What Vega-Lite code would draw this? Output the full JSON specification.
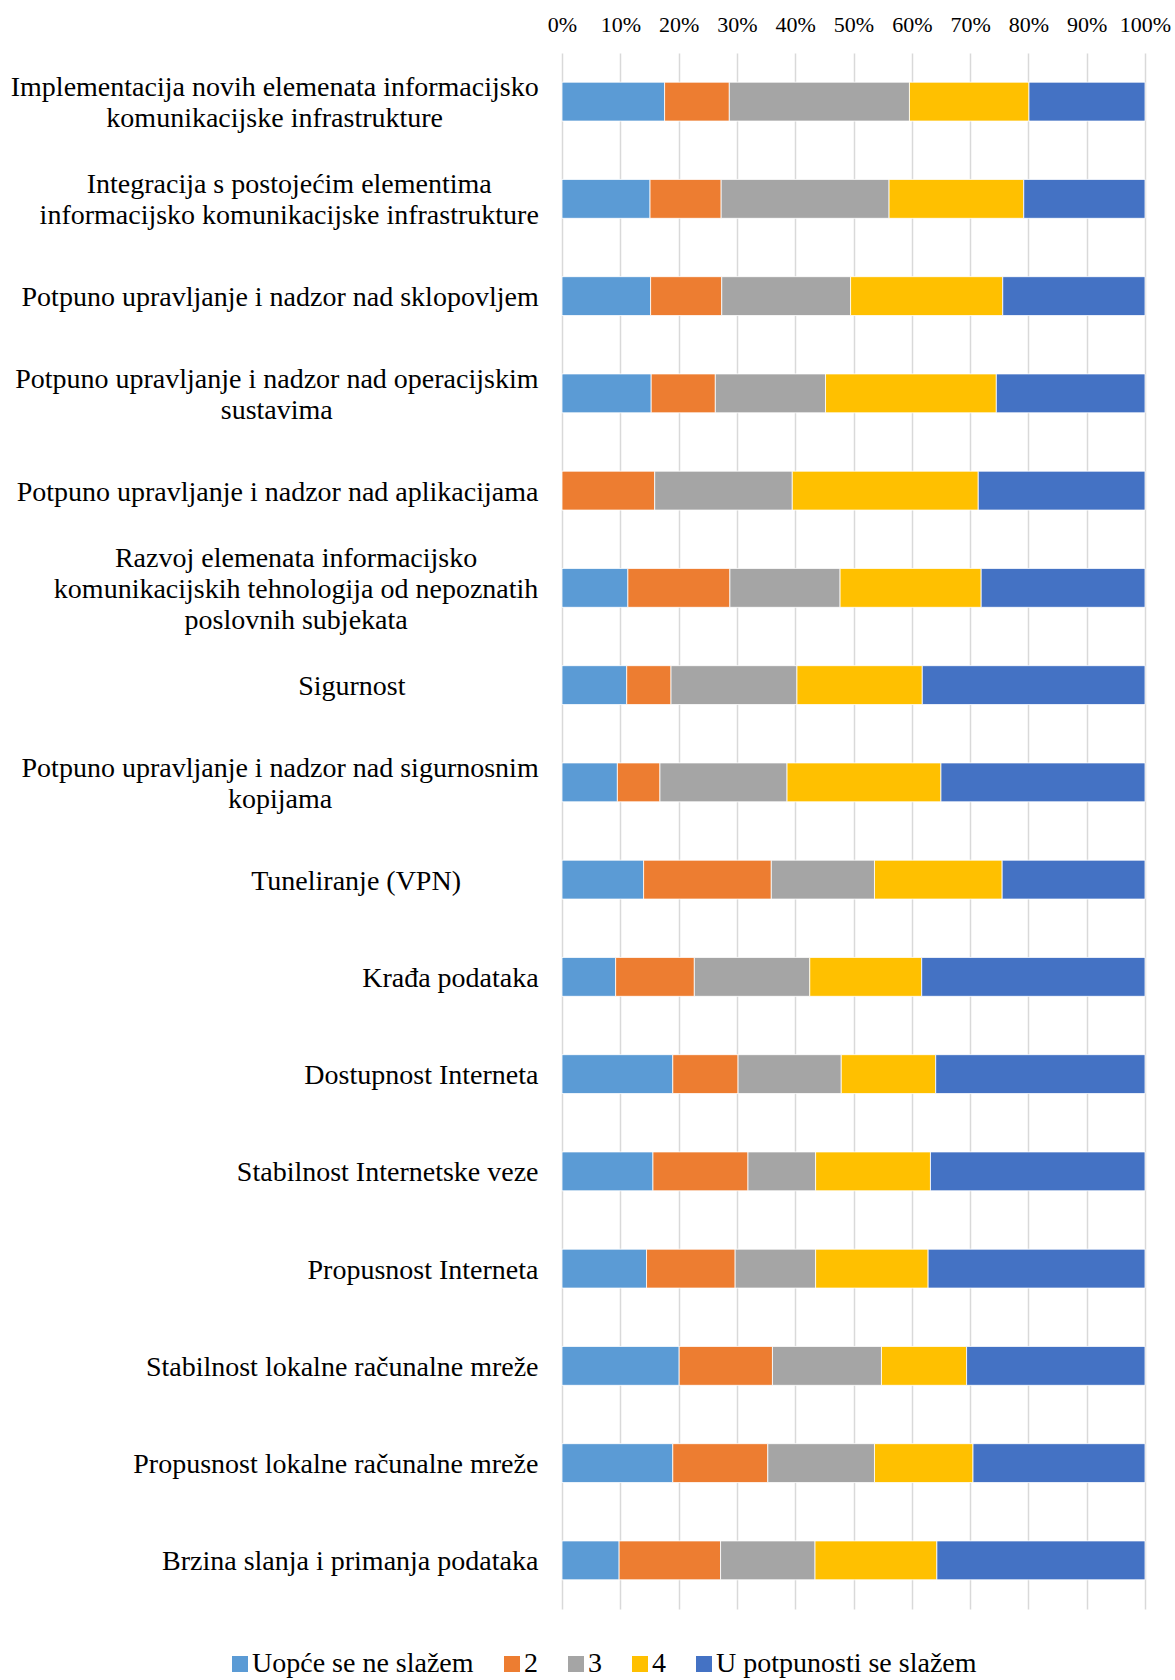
{
  "$schema": "https://vega.github.io/schema/vega-lite/v6.json",
  "width": 583,
  "height": 1556,
  "autosize": {"type": "none"},
  "padding": {"left": 562, "top": 53, "right": 30, "bottom": 71},
  "background": "white",
  "config": {"view": {"stroke": null}, "font": "Liberation Serif"},
  "data": {"values": [
    {"tema":"Implementacija novih elemenata informacijsko\nkomunikacijske infrastrukture","ocjena":"Uopće se ne slažem","k":1,"udio":17.6},
    {"tema":"Implementacija novih elemenata informacijsko\nkomunikacijske infrastrukture","ocjena":"2","k":2,"udio":11.1},
    {"tema":"Implementacija novih elemenata informacijsko\nkomunikacijske infrastrukture","ocjena":"3","k":3,"udio":30.9},
    {"tema":"Implementacija novih elemenata informacijsko\nkomunikacijske infrastrukture","ocjena":"4","k":4,"udio":20.5},
    {"tema":"Implementacija novih elemenata informacijsko\nkomunikacijske infrastrukture","ocjena":"U potpunosti se slažem","k":5,"udio":19.9},
    {"tema":"Integracija s postojećim elementima\ninformacijsko komunikacijske infrastrukture","ocjena":"Uopće se ne slažem","k":1,"udio":15.1},
    {"tema":"Integracija s postojećim elementima\ninformacijsko komunikacijske infrastrukture","ocjena":"2","k":2,"udio":12.2},
    {"tema":"Integracija s postojećim elementima\ninformacijsko komunikacijske infrastrukture","ocjena":"3","k":3,"udio":28.8},
    {"tema":"Integracija s postojećim elementima\ninformacijsko komunikacijske infrastrukture","ocjena":"4","k":4,"udio":23.1},
    {"tema":"Integracija s postojećim elementima\ninformacijsko komunikacijske infrastrukture","ocjena":"U potpunosti se slažem","k":5,"udio":20.8},
    {"tema":"Potpuno upravljanje i nadzor nad sklopovljem","ocjena":"Uopće se ne slažem","k":1,"udio":15.2},
    {"tema":"Potpuno upravljanje i nadzor nad sklopovljem","ocjena":"2","k":2,"udio":12.2},
    {"tema":"Potpuno upravljanje i nadzor nad sklopovljem","ocjena":"3","k":3,"udio":22.1},
    {"tema":"Potpuno upravljanje i nadzor nad sklopovljem","ocjena":"4","k":4,"udio":26.1},
    {"tema":"Potpuno upravljanje i nadzor nad sklopovljem","ocjena":"U potpunosti se slažem","k":5,"udio":24.4},
    {"tema":"Potpuno upravljanje i nadzor nad operacijskim\nsustavima","ocjena":"Uopće se ne slažem","k":1,"udio":15.3},
    {"tema":"Potpuno upravljanje i nadzor nad operacijskim\nsustavima","ocjena":"2","k":2,"udio":11.0},
    {"tema":"Potpuno upravljanje i nadzor nad operacijskim\nsustavima","ocjena":"3","k":3,"udio":18.9},
    {"tema":"Potpuno upravljanje i nadzor nad operacijskim\nsustavima","ocjena":"4","k":4,"udio":29.3},
    {"tema":"Potpuno upravljanje i nadzor nad operacijskim\nsustavima","ocjena":"U potpunosti se slažem","k":5,"udio":25.5},
    {"tema":"Potpuno upravljanje i nadzor nad aplikacijama","ocjena":"Uopće se ne slažem","k":1,"udio":0},
    {"tema":"Potpuno upravljanje i nadzor nad aplikacijama","ocjena":"2","k":2,"udio":15.9},
    {"tema":"Potpuno upravljanje i nadzor nad aplikacijama","ocjena":"3","k":3,"udio":23.6},
    {"tema":"Potpuno upravljanje i nadzor nad aplikacijama","ocjena":"4","k":4,"udio":31.9},
    {"tema":"Potpuno upravljanje i nadzor nad aplikacijama","ocjena":"U potpunosti se slažem","k":5,"udio":28.6},
    {"tema":"Razvoj elemenata informacijsko\nkomunikacijskih tehnologija od nepoznatih\nposlovnih subjekata","ocjena":"Uopće se ne slažem","k":1,"udio":11.3},
    {"tema":"Razvoj elemenata informacijsko\nkomunikacijskih tehnologija od nepoznatih\nposlovnih subjekata","ocjena":"2","k":2,"udio":17.5},
    {"tema":"Razvoj elemenata informacijsko\nkomunikacijskih tehnologija od nepoznatih\nposlovnih subjekata","ocjena":"3","k":3,"udio":18.9},
    {"tema":"Razvoj elemenata informacijsko\nkomunikacijskih tehnologija od nepoznatih\nposlovnih subjekata","ocjena":"4","k":4,"udio":24.2},
    {"tema":"Razvoj elemenata informacijsko\nkomunikacijskih tehnologija od nepoznatih\nposlovnih subjekata","ocjena":"U potpunosti se slažem","k":5,"udio":28.1},
    {"tema":"Sigurnost","ocjena":"Uopće se ne slažem","k":1,"udio":11.1},
    {"tema":"Sigurnost","ocjena":"2","k":2,"udio":7.6},
    {"tema":"Sigurnost","ocjena":"3","k":3,"udio":21.6},
    {"tema":"Sigurnost","ocjena":"4","k":4,"udio":21.5},
    {"tema":"Sigurnost","ocjena":"U potpunosti se slažem","k":5,"udio":38.2},
    {"tema":"Potpuno upravljanje i nadzor nad sigurnosnim\nkopijama","ocjena":"Uopće se ne slažem","k":1,"udio":9.5},
    {"tema":"Potpuno upravljanje i nadzor nad sigurnosnim\nkopijama","ocjena":"2","k":2,"udio":7.3},
    {"tema":"Potpuno upravljanje i nadzor nad sigurnosnim\nkopijama","ocjena":"3","k":3,"udio":21.8},
    {"tema":"Potpuno upravljanje i nadzor nad sigurnosnim\nkopijama","ocjena":"4","k":4,"udio":26.4},
    {"tema":"Potpuno upravljanje i nadzor nad sigurnosnim\nkopijama","ocjena":"U potpunosti se slažem","k":5,"udio":35.0},
    {"tema":"Tuneliranje (VPN)","ocjena":"Uopće se ne slažem","k":1,"udio":14.0},
    {"tema":"Tuneliranje (VPN)","ocjena":"2","k":2,"udio":21.9},
    {"tema":"Tuneliranje (VPN)","ocjena":"3","k":3,"udio":17.7},
    {"tema":"Tuneliranje (VPN)","ocjena":"4","k":4,"udio":21.9},
    {"tema":"Tuneliranje (VPN)","ocjena":"U potpunosti se slažem","k":5,"udio":24.5},
    {"tema":"Krađa podataka","ocjena":"Uopće se ne slažem","k":1,"udio":9.2},
    {"tema":"Krađa podataka","ocjena":"2","k":2,"udio":13.5},
    {"tema":"Krađa podataka","ocjena":"3","k":3,"udio":19.8},
    {"tema":"Krađa podataka","ocjena":"4","k":4,"udio":19.2},
    {"tema":"Krađa podataka","ocjena":"U potpunosti se slažem","k":5,"udio":38.3},
    {"tema":"Dostupnost Interneta","ocjena":"Uopće se ne slažem","k":1,"udio":19.0},
    {"tema":"Dostupnost Interneta","ocjena":"2","k":2,"udio":11.2},
    {"tema":"Dostupnost Interneta","ocjena":"3","k":3,"udio":17.7},
    {"tema":"Dostupnost Interneta","ocjena":"4","k":4,"udio":16.2},
    {"tema":"Dostupnost Interneta","ocjena":"U potpunosti se slažem","k":5,"udio":35.9},
    {"tema":"Stabilnost Internetske veze","ocjena":"Uopće se ne slažem","k":1,"udio":15.6},
    {"tema":"Stabilnost Internetske veze","ocjena":"2","k":2,"udio":16.3},
    {"tema":"Stabilnost Internetske veze","ocjena":"3","k":3,"udio":11.6},
    {"tema":"Stabilnost Internetske veze","ocjena":"4","k":4,"udio":19.7},
    {"tema":"Stabilnost Internetske veze","ocjena":"U potpunosti se slažem","k":5,"udio":36.8},
    {"tema":"Propusnost Interneta","ocjena":"Uopće se ne slažem","k":1,"udio":14.5},
    {"tema":"Propusnost Interneta","ocjena":"2","k":2,"udio":15.2},
    {"tema":"Propusnost Interneta","ocjena":"3","k":3,"udio":13.8},
    {"tema":"Propusnost Interneta","ocjena":"4","k":4,"udio":19.3},
    {"tema":"Propusnost Interneta","ocjena":"U potpunosti se slažem","k":5,"udio":37.2},
    {"tema":"Stabilnost lokalne računalne mreže","ocjena":"Uopće se ne slažem","k":1,"udio":20.1},
    {"tema":"Stabilnost lokalne računalne mreže","ocjena":"2","k":2,"udio":16.0},
    {"tema":"Stabilnost lokalne računalne mreže","ocjena":"3","k":3,"udio":18.7},
    {"tema":"Stabilnost lokalne računalne mreže","ocjena":"4","k":4,"udio":14.6},
    {"tema":"Stabilnost lokalne računalne mreže","ocjena":"U potpunosti se slažem","k":5,"udio":30.6},
    {"tema":"Propusnost lokalne računalne mreže","ocjena":"Uopće se ne slažem","k":1,"udio":19.0},
    {"tema":"Propusnost lokalne računalne mreže","ocjena":"2","k":2,"udio":16.3},
    {"tema":"Propusnost lokalne računalne mreže","ocjena":"3","k":3,"udio":18.3},
    {"tema":"Propusnost lokalne računalne mreže","ocjena":"4","k":4,"udio":16.9},
    {"tema":"Propusnost lokalne računalne mreže","ocjena":"U potpunosti se slažem","k":5,"udio":29.5},
    {"tema":"Brzina slanja i primanja podataka","ocjena":"Uopće se ne slažem","k":1,"udio":9.8},
    {"tema":"Brzina slanja i primanja podataka","ocjena":"2","k":2,"udio":17.4},
    {"tema":"Brzina slanja i primanja podataka","ocjena":"3","k":3,"udio":16.2},
    {"tema":"Brzina slanja i primanja podataka","ocjena":"4","k":4,"udio":20.9},
    {"tema":"Brzina slanja i primanja podataka","ocjena":"U potpunosti se slažem","k":5,"udio":35.7}
  ]},
  "mark": {"type": "bar", "stroke": "white", "strokeWidth": 0.8},
  "encoding": {
    "y": {
      "field": "tema", "type": "nominal", "sort": null,
      "scale": {"paddingInner": 0.6, "paddingOuter": 0.3},
      "axis": {
        "title": null, "ticks": false, "domain": false, "grid": false,
        "labelFont": "Liberation Serif", "labelFontSize": 28, "labelColor": "black",
        "labelLineHeight": 31, "labelLimit": 2000,
        "labelAlign": "center", "labelBaseline": "middle",
        "labelExpr": "split(datum.label, '\\n')",
        "labelOffset": {"expr": "2 - (length(split(datum.value, '\\n')) - 1) * 15.5"},
        "labelPadding": {"expr": "24 + ([263.8,249.3,258.4,261.7,261,242.4,186.7,258.4,182.4,88.1,117.1,150.8,115.5,196.3,202.7,188.3][indexof(domain('y'), datum.value)] || 0)"}
      }
    },
    "x": {
      "field": "udio", "type": "quantitative", "stack": "normalize",
      "scale": {"domain": [0, 1], "nice": false},
      "axis": {
        "orient": "top", "title": null, "format": ".0%",
        "values": [0, 0.1, 0.2, 0.3, 0.4, 0.5, 0.6, 0.7, 0.8, 0.9, 1],
        "ticks": false, "domain": false, "grid": true,
        "gridColor": "#d9d9d9", "gridWidth": 1.5,
        "labelFont": "Liberation Serif", "labelFontSize": 22, "labelColor": "black",
        "labelPadding": 17, "labelFlush": false, "labelOverlap": false, "labelBound": false
      }
    },
    "color": {
      "field": "ocjena", "type": "nominal",
      "scale": {
        "domain": ["Uopće se ne slažem", "2", "3", "4", "U potpunosti se slažem"],
        "range": ["#5B9BD5", "#ED7D31", "#A5A5A5", "#FFC000", "#4472C4"]
      },
      "legend": {
        "title": null, "orient": "none", "direction": "horizontal",
        "legendX": -336, "legendY": 1597,
        "symbolType": "square", "symbolSize": 256, "symbolStrokeWidth": 0,
        "labelFont": "Liberation Serif", "labelFontSize": 28, "labelColor": "black",
        "labelOffset": -2, "columnPadding": 24, "padding": 0, "labelLimit": 1000
      }
    },
    "order": {"field": "k", "type": "quantitative"}
  }
}
